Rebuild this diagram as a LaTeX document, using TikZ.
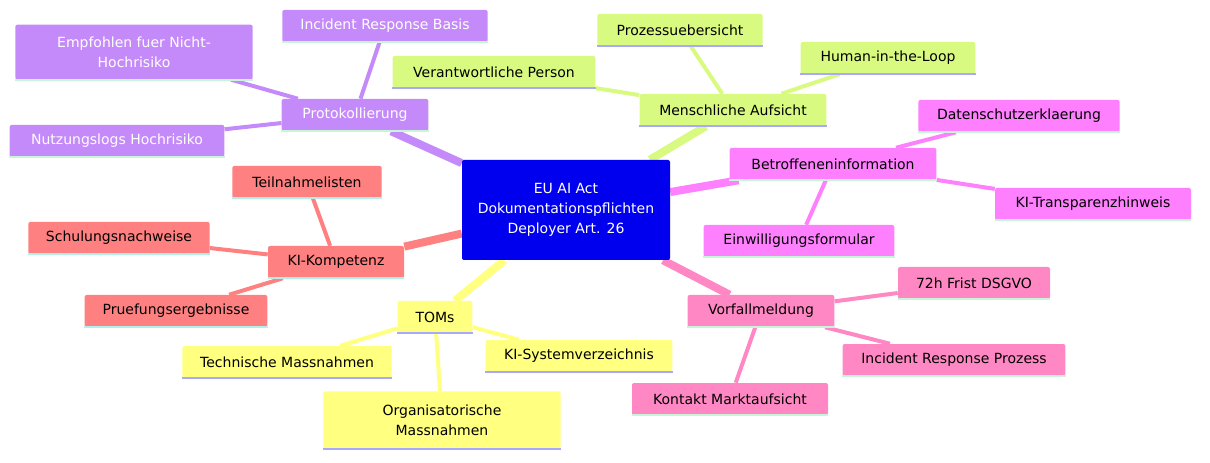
\documentclass[tikz,border=0pt]{standalone}
\usepackage{fontspec}
\setmainfont{DejaVu Sans}
\usetikzlibrary{backgrounds}
\definecolor{cRoot}{HTML}{0000EE}
\definecolor{cPro}{HTML}{C58AF9}
\definecolor{cMen}{HTML}{D9FA80}
\definecolor{cBet}{HTML}{FF80FF}
\definecolor{cVor}{HTML}{FF88C4}
\definecolor{cTom}{HTML}{FFFF80}
\definecolor{cKom}{HTML}{FF8080}
\definecolor{uGreen}{HTML}{C8F5D8}
\definecolor{uBlue}{HTML}{A8A8FF}
\definecolor{uCyan}{HTML}{B0F0E8}
\tikzset{
  box/.style={rectangle, rounded corners=1.5pt, inner sep=0pt, font=\fontsize{10.5}{15}\selectfont, align=center},
  main/.style={line width=6pt},
  leaf/.style={line width=3pt},
}
\begin{document}
\begin{tikzpicture}[x=0.75pt,y=0.75pt,yscale=-1,xscale=1]
\useasboundingbox (0,0) rectangle (1210,463);

%Root
\node[box, fill=cRoot, text=white, minimum width=156pt, minimum height=75pt] (root) at (566,210) {EU AI Act\\Dokumentationspflichten\\Deployer Art. 26};

%Protokollierung
\node[box, fill=cPro, text=white, minimum width=110pt, minimum height=24pt] (prot) at (355,115) {Protokollierung};
\node[box, fill=cPro, text=white, minimum width=154pt, minimum height=24pt] (prot1) at (385,26) {Incident Response Basis};
\node[box, fill=cPro, text=white, minimum width=178pt, minimum height=41pt] (prot2) at (134,52) {Empfohlen fuer Nicht-\\Hochrisiko};
\node[box, fill=cPro, text=white, minimum width=161pt, minimum height=24pt] (prot3) at (117,141) {Nutzungslogs Hochrisiko};

%Menschliche Aufsicht
\node[box, fill=cMen, minimum width=140pt, minimum height=24pt] (mensch) at (733,110) {Menschliche Aufsicht};
\node[box, fill=cMen, minimum width=124pt, minimum height=24pt] (mensch1) at (680,30) {Prozessuebersicht};
\node[box, fill=cMen, minimum width=131pt, minimum height=24pt] (mensch2) at (888,58) {Human-in-the-Loop};
\node[box, fill=cMen, minimum width=152pt, minimum height=24pt] (mensch3) at (494,72) {Verantwortliche Person};

%Betroffeneninformation
\node[box, fill=cBet, minimum width=155pt, minimum height=24pt] (betr) at (833,164) {Betroffeneninformation};
\node[box, fill=cBet, minimum width=151pt, minimum height=24pt] (betr1) at (1019,116) {Datenschutzerklaerung};
\node[box, fill=cBet, minimum width=147pt, minimum height=24pt] (betr2) at (1093,204) {KI-Transparenzhinweis};
\node[box, fill=cBet, minimum width=143pt, minimum height=24pt] (betr3) at (799,241) {Einwilligungsformular};

%Vorfallmeldung
\node[box, fill=cVor, minimum width=110pt, minimum height=24pt] (vorf) at (761,311) {Vorfallmeldung};
\node[box, fill=cVor, minimum width=114pt, minimum height=24pt] (vorf1) at (974,283) {72h Frist DSGVO};
\node[box, fill=cVor, minimum width=167pt, minimum height=24pt] (vorf2) at (954,360) {Incident Response Prozess};
\node[box, fill=cVor, minimum width=147pt, minimum height=24pt] (vorf3) at (730,399) {Kontakt Marktaufsicht};

%TOMs
\node[box, fill=cTom, minimum width=56pt, minimum height=24pt] (toms) at (435,317) {TOMs};
\node[box, fill=cTom, minimum width=157pt, minimum height=24pt] (toms1) at (287,362) {Technische Massnahmen};
\node[box, fill=cTom, minimum width=140pt, minimum height=24pt] (toms2) at (579,356) {KI-Systemverzeichnis};
\node[box, fill=cTom, minimum width=178pt, minimum height=43pt] (toms3) at (442,420) {Organisatorische\\Massnahmen};

%KI-Kompetenz
\node[box, fill=cKom, minimum width=102pt, minimum height=24pt] (komp) at (336,262) {KI-Kompetenz};
\node[box, fill=cKom, minimum width=112pt, minimum height=24pt] (komp1) at (307,182) {Teilnahmelisten};
\node[box, fill=cKom, minimum width=136pt, minimum height=24pt] (komp2) at (119,238) {Schulungsnachweise};
\node[box, fill=cKom, minimum width=137pt, minimum height=24pt] (komp3) at (176,311) {Pruefungsergebnisse};

%underlines
\foreach \n/\c in {prot/uGreen,prot1/uGreen,prot2/uGreen,prot3/uGreen,
  mensch/uBlue,mensch1/uBlue,mensch2/uBlue,mensch3/uBlue,
  betr/uGreen,betr1/uGreen,betr2/uGreen,betr3/uGreen,
  vorf/uGreen,vorf1/uGreen,vorf2/uGreen,vorf3/uGreen,
  toms/uBlue,toms1/uBlue,toms2/uBlue,toms3/uBlue,
  komp/uCyan,komp1/uCyan,komp2/uCyan,komp3/uCyan}
  \draw[\c, line width=1.5pt] (\n.south west) -- (\n.south east);

%connectors
\begin{pgfonlayer}{background}
\draw[main, cPro] (root) -- (prot);
\draw[main, cMen] (root) -- (mensch);
\draw[main, cBet] (root) -- (betr);
\draw[main, cVor] (root) -- (vorf);
\draw[main, cTom] (root) -- (toms);
\draw[main, cKom] (root) -- (komp);
\foreach \p/\c in {prot/cPro,mensch/cMen,betr/cBet,vorf/cVor,toms/cTom,komp/cKom}
  \foreach \i in {1,2,3}
    \draw[leaf, \c] (\p) -- (\p\i);
\end{pgfonlayer}
\end{tikzpicture}
\end{document}
